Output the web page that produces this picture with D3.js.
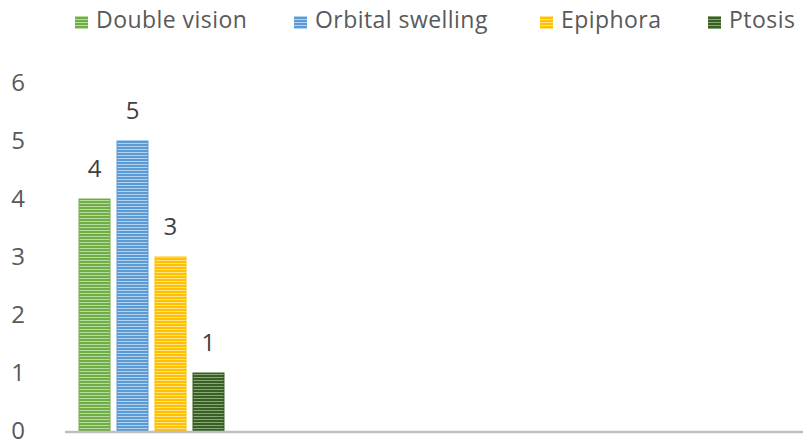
<!DOCTYPE html>
<html>
<head>
<meta charset="utf-8">
<script src="https://cdn.jsdelivr.net/npm/d3@7"></script>
<style>
  body { margin: 0; background: #fff; }
  text { font-family: "Open Sans", sans-serif; }
</style>
</head>
<body>
<div id="chart"></div>
<script>
// chart data
const categories = ["Symptoms"];
const series = ["Double vision", "Orbital swelling", "Epiphora", "Ptosis"];
const values = [4, 5, 3, 1];
const yTicks = [0, 1, 2, 3, 4, 5, 6];

const colors = ["#70ad47", "#5b9bd5", "#ffc000", "#3a5f24"];
const lights = ["#b9dca3", "#b4d2ee", "#ffe28a", "#86a874"];

const width = 803, height = 442;
const margin = { top: 83, right: 0, bottom: 11, left: 65 };

const svg = d3.select("#chart").append("svg")
    .attr("width", width)
    .attr("height", height);

// striped fills, one per series
const defs = svg.append("defs");
series.forEach((s, i) => {
    const p = defs.append("pattern")
        .attr("id", "stripe" + i)
        .attr("patternUnits", "userSpaceOnUse")
        .attr("width", 6)
        .attr("height", 3);
    p.append("rect").attr("width", 6).attr("height", 3).attr("fill", lights[i]);
    p.append("rect").attr("width", 6).attr("height", 2).attr("fill", colors[i]);
});

const y = d3.scaleLinear()
    .domain([0, 6])
    .range([height - margin.bottom, margin.top]);

const x0 = d3.scaleBand()
    .domain(categories)
    .range([margin.left, margin.left + 173])
    .paddingOuter(0.0966)
    .paddingInner(0);

const x1 = d3.scaleBand()
    .domain(series)
    .range([0, x0.bandwidth()])
    .paddingInner(0.184)
    .paddingOuter(0);

// y tick labels (no axis line)
svg.append("g")
    .selectAll("text")
    .data(yTicks)
    .enter()
    .append("text")
    .attr("x", 18)
    .attr("y", d => y(d) - 1)
    .attr("dy", "0.36em")
    .attr("text-anchor", "middle")
    .attr("font-size", 24)
    .attr("fill", "#595959")
    .text(d => d);

// bars
const group = svg.append("g")
    .attr("transform", "translate(" + x0(categories[0]) + ",0)");

group.selectAll("rect")
    .data(values)
    .enter()
    .append("rect")
    .attr("x", (d, i) => x1(series[i]))
    .attr("y", d => y(d))
    .attr("width", x1.bandwidth())
    .attr("height", d => y(0) - y(d))
    .attr("fill", (d, i) => "url(#stripe" + i + ")")
    .attr("stroke", (d, i) => colors[i])
    .attr("stroke-width", 1);

// value labels
group.selectAll(".label")
    .data(values)
    .enter()
    .append("text")
    .attr("class", "label")
    .attr("x", (d, i) => x1(series[i]) + x1.bandwidth() / 2)
    .attr("y", d => y(d) - 22)
    .attr("text-anchor", "middle")
    .attr("font-size", 24)
    .attr("fill", "#404040")
    .text(d => d);

// baseline
svg.append("line")
    .attr("x1", margin.left)
    .attr("x2", width)
    .attr("y1", y(0) + 1)
    .attr("y2", y(0) + 1)
    .attr("stroke", "#bfbfbf")
    .attr("stroke-width", 2.5);

// legend
const legendX = [75, 294, 540, 708];
const legend = svg.append("g");
series.forEach((s, i) => {
    const g = legend.append("g").attr("transform", "translate(" + legendX[i] + ",20)");
    g.append("rect")
        .attr("x", 0)
        .attr("y", -4)
        .attr("width", 13)
        .attr("height", 13)
        .attr("fill", "url(#stripe" + i + ")");
    g.append("text")
        .attr("x", 21)
        .attr("y", 0)
        .attr("dy", "0.36em")
        .attr("font-size", 23)
        .attr("letter-spacing", 0.45)
        .attr("fill", "#595959")
        .text(s);
});
</script>
</body>
</html>
